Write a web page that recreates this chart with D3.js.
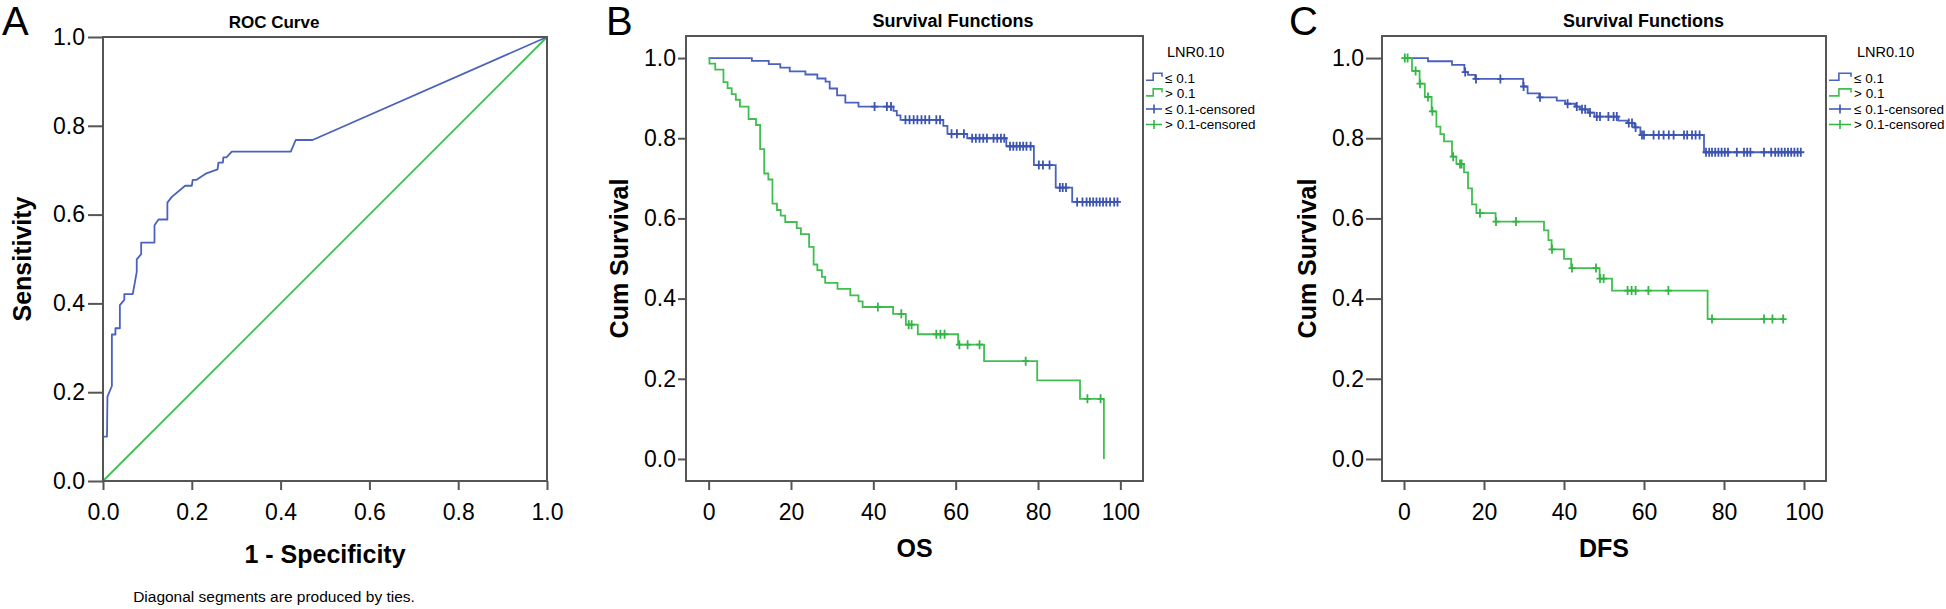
<!DOCTYPE html>
<html><head><meta charset="utf-8">
<script src="https://cdn.jsdelivr.net/npm/d3@7"></script>
<style>
body{margin:0;background:#fff;}
svg text{font-family:"Liberation Sans",Arial,Helvetica,sans-serif;fill:#000;}
</style></head><body>
<svg id="chart" width="1946" height="609"></svg>
<script>
// ---------------- DATA ----------------
// Panel A: ROC curve (1 - specificity, sensitivity)
const rocFPR = [0, 0, 0.009, 0.010, 0.020, 0.020, 0.028, 0.028, 0.038, 0.038, 0.048, 0.048, 0.067, 0.076, 0.076, 0.086, 0.086, 0.116, 0.116, 0.125, 0.145, 0.145, 0.155, 0.185, 0.200, 0.202, 0.210, 0.233, 0.258, 0.260, 0.270, 0.271, 0.278, 0.290, 0.423, 0.434, 0.472, 1];
const rocTPR = [0, 0.100, 0.100, 0.190, 0.214, 0.330, 0.330, 0.344, 0.344, 0.396, 0.408, 0.421, 0.421, 0.471, 0.499, 0.511, 0.537, 0.537, 0.576, 0.589, 0.589, 0.627, 0.640, 0.665, 0.665, 0.678, 0.678, 0.693, 0.702, 0.717, 0.717, 0.729, 0.729, 0.742, 0.742, 0.768, 0.768, 1];
const rocRefX = [0, 1];
const rocRefY = [0, 1];
const rocTicks = [0, 0.2, 0.4, 0.6, 0.8, 1.0];

// Panel B: OS, LNR <= 0.1
const osLowEventT = [10.5, 14.6, 17.4, 19.7, 23.5, 26.4, 28.4, 29.4, 31.2, 33.2, 36.4, 44.9, 45.7, 46.6, 57.0, 58.0, 62.8, 72.3, 79.0, 84.3, 88.3];
const osLowEventS = [0.993, 0.985, 0.976, 0.967, 0.959, 0.949, 0.941, 0.924, 0.907, 0.889, 0.879, 0.868, 0.857, 0.846, 0.831, 0.811, 0.800, 0.780, 0.733, 0.677, 0.641];
const osLowCensT = [40.3, 43.3, 44.3, 47.8, 48.8, 49.8, 50.7, 51.7, 52.6, 53.6, 55.3, 56.2, 59.0, 60.3, 62.0, 64.0, 64.9, 65.8, 66.7, 67.6, 69.2, 70.1, 71.0, 71.8, 73.2, 74.0, 74.8, 75.6, 76.4, 77.2, 78.2, 80.2, 81.2, 82.8, 85.3, 86.0, 86.8, 89.5, 90.8, 91.8, 92.6, 93.4, 94.2, 95.0, 95.8, 96.6, 97.5, 98.5, 99.3];
// Panel B: OS, LNR > 0.1
const osHighEventT = [0.2, 1.6, 3.6, 4.6, 5.6, 6.6, 7.6, 9.7, 11.5, 12.5, 13.5, 14.5, 15.5, 16.6, 17.5, 18.6, 21.4, 22.4, 24.4, 25.5, 26.4, 27.5, 28.3, 31.3, 34.4, 36.4, 37.4, 44.8, 47.9, 50.8, 60.6, 66.9, 79.8, 90.2, 96.0];
const osHighEventS = [0.986, 0.971, 0.940, 0.925, 0.910, 0.896, 0.879, 0.848, 0.833, 0.773, 0.712, 0.697, 0.637, 0.621, 0.607, 0.591, 0.576, 0.561, 0.529, 0.485, 0.471, 0.454, 0.439, 0.424, 0.408, 0.393, 0.379, 0.362, 0.335, 0.311, 0.285, 0.244, 0.196, 0.150, 0.0];
const osHighCensT = [41.1, 46.8, 48.6, 49.3, 55.3, 56.3, 57.3, 60.9, 62.9, 65.8, 77.0, 92.0, 95.2];

// Panel C: DFS, LNR <= 0.1
const dfsLowEventT = [6.0, 12.0, 15.1, 16.0, 17.8, 29.8, 30.9, 33.8, 38.2, 40.3, 42.8, 44.0, 46.0, 47.6, 53.6, 55.9, 57.6, 59.1, 75.0];
const dfsLowEventS = [0.992, 0.983, 0.965, 0.958, 0.948, 0.929, 0.912, 0.902, 0.894, 0.886, 0.879, 0.872, 0.864, 0.854, 0.844, 0.838, 0.827, 0.808, 0.765];
const dfsLowCensT = [15.3, 18.0, 24.1, 29.9, 34.0, 40.9, 43.2, 44.5, 45.3, 46.5, 48.2, 49.0, 51.1, 52.4, 53.2, 56.2, 57.0, 57.9, 59.5, 60.0, 62.4, 63.7, 64.9, 66.2, 67.4, 70.0, 70.8, 72.0, 72.9, 73.9, 75.5, 76.3, 77.0, 77.8, 78.6, 79.4, 80.2, 81.0, 83.2, 85.0, 85.8, 86.6, 90.0, 91.8, 92.8, 93.6, 94.4, 95.2, 96.0, 96.8, 97.6, 98.4, 99.2];
// Panel C: DFS, LNR > 0.1
const dfsHighEventT = [2.0, 3.9, 5.2, 6.9, 8.1, 9.1, 10.0, 12.0, 13.1, 15.0, 16.0, 17.0, 18.1, 22.9, 35.0, 36.1, 36.9, 40.0, 41.8, 48.9, 52.0, 75.9];
const dfsHighEventS = [0.968, 0.936, 0.903, 0.867, 0.829, 0.810, 0.792, 0.754, 0.736, 0.715, 0.675, 0.635, 0.613, 0.592, 0.570, 0.546, 0.523, 0.499, 0.476, 0.450, 0.420, 0.349];
const dfsHighCensT = [0.2, 0.9, 2.9, 4.0, 6.0, 7.1, 12.3, 14.0, 14.4, 19.0, 23.0, 28.0, 37.0, 42.0, 48.0, 49.0, 49.9, 55.9, 56.9, 57.9, 61.1, 66.1, 77.0, 90.0, 92.1, 94.8];

const survTicksY = [0, 0.2, 0.4, 0.6, 0.8, 1.0];
const survTicksX = [0, 20, 40, 60, 80, 100];
const legendTitle = "LNR0.10";
const legendLabels = ["\u2264 0.1", "> 0.1", "\u2264 0.1-censored", "> 0.1-censored"];

// ---------------- STYLE ----------------
const FRAME = "#555555";
const BLUE = "#4a62bd";
const GREEN = "#40bf50";
const BLUE_M = "#3c54b0";
const GREEN_M = "#33b545";

const svg = d3.select("#chart");
svg.append("rect").attr("width", 1946).attr("height", 609).attr("fill", "#fff");

function styleAxis(g) {
  g.select(".domain").remove();
  g.selectAll(".tick line").attr("stroke", FRAME).attr("stroke-width", 2);
  g.selectAll(".tick text").style("font-size", "23px").attr("fill", "#000");
}

function frame(x0, x1, y0, y1) {
  svg.append("rect").attr("x", x0).attr("y", y0).attr("width", x1 - x0).attr("height", y1 - y0)
    .attr("fill", "none").attr("stroke", FRAME).attr("stroke-width", 2);
}

// ---------------- PANEL A ----------------
const xA = d3.scaleLinear().domain([0, 1]).range([103, 547]);
const yA = d3.scaleLinear().domain([0, 1]).range([481, 37]);

svg.append("g").attr("transform", "translate(103,0)")
  .call(d3.axisLeft(yA).tickValues(rocTicks).tickFormat(d3.format(".1f")).tickSize(15).tickPadding(3))
  .call(styleAxis);
svg.append("g").attr("transform", "translate(0,481)")
  .call(d3.axisBottom(xA).tickValues(rocTicks).tickFormat(d3.format(".1f")).tickSize(9).tickPadding(14))
  .call(styleAxis);

svg.append("path")
  .attr("d", d3.line().x(d => xA(d[0])).y(d => yA(d[1]))(rocRefX.map((v, i) => [v, rocRefY[i]])))
  .attr("fill", "none").attr("stroke", GREEN).attr("stroke-width", 1.8);
svg.append("path")
  .attr("d", d3.line().x(d => xA(d[0])).y(d => yA(d[1]))(rocFPR.map((v, i) => [v, rocTPR[i]])))
  .attr("fill", "none").attr("stroke", BLUE).attr("stroke-width", 1.8).attr("stroke-linejoin", "round");
frame(103, 547, 37, 481);

svg.append("text").attr("x", 2).attr("y", 35).style("font-size", "40px").text("A");
svg.append("text").attr("x", 274).attr("y", 28).attr("text-anchor", "middle")
  .style("font-size", "17px").style("font-weight", "bold").text("ROC Curve");
svg.append("text").attr("transform", "translate(31,259) rotate(-90)").attr("text-anchor", "middle")
  .style("font-size", "25px").style("font-weight", "bold").text("Sensitivity");
svg.append("text").attr("x", 325).attr("y", 563).attr("text-anchor", "middle")
  .style("font-size", "25px").style("font-weight", "bold").text("1 - Specificity");
svg.append("text").attr("x", 274).attr("y", 602).attr("text-anchor", "middle")
  .style("font-size", "15.5px").text("Diagonal segments are produced by ties.");

// ---------------- KM helper ----------------
function survAt(t, evT, evS) {
  let s = 1;
  evT.forEach((e, i) => { if (e <= t) s = evS[i]; });
  return s;
}
function kmPanel(cfg) {
  const x = d3.scaleLinear().domain([-5.5, 105.5]).range([cfg.x0, cfg.x1]);
  const y = d3.scaleLinear().domain([-0.055, 1.055]).range([cfg.y1, cfg.y0]);

  svg.append("g").attr("transform", `translate(${cfg.x0},0)`)
    .call(d3.axisLeft(y).tickValues(survTicksY).tickFormat(d3.format(".1f")).tickSize(cfg.yTick).tickPadding(cfg.yPad))
    .call(styleAxis);
  svg.append("g").attr("transform", `translate(0,${cfg.y1})`)
    .call(d3.axisBottom(x).tickValues(survTicksX).tickFormat(d3.format("d")).tickSize(9).tickPadding(14))
    .call(styleAxis);

  const line = d3.line().x(d => x(d[0])).y(d => y(d[1])).curve(d3.curveStepAfter);
  cfg.series.forEach(sr => {
    const end = Math.max(d3.max(sr.evT), d3.max(sr.cenT));
    const pts = [[0, 1]];
    sr.evT.forEach((t, i) => pts.push([t, sr.evS[i]]));
    pts.push([end, sr.evS[sr.evS.length - 1]]);
    svg.append("path").attr("d", line(pts)).attr("fill", "none")
      .attr("stroke", sr.color).attr("stroke-width", 1.8);
  });
  cfg.series.forEach(sr => {
    svg.append("g").selectAll("path").data(sr.cenT).join("path")
      .attr("d", t => {
        const px = x(t), py = y(survAt(t, sr.evT, sr.evS));
        return `M${px - 3.5},${py}H${px + 3.5}M${px},${py - 4.5}V${py + 4.5}`;
      })
      .attr("fill", "none").attr("stroke", sr.mark).attr("stroke-width", 1.8);
  });
  frame(cfg.x0, cfg.x1, cfg.y0, cfg.y1);

  svg.append("text").attr("x", cfg.letterX).attr("y", 35).style("font-size", "40px").text(cfg.letter);
  svg.append("text").attr("x", cfg.titleX).attr("y", 27).attr("text-anchor", "middle")
    .style("font-size", "18px").style("font-weight", "bold").text("Survival Functions");
  svg.append("text").attr("transform", `translate(${cfg.yTitleX},${(cfg.y0 + cfg.y1) / 2}) rotate(-90)`)
    .attr("text-anchor", "middle").style("font-size", "25px").style("font-weight", "bold").text("Cum Survival");
  svg.append("text").attr("x", (cfg.x0 + cfg.x1) / 2).attr("y", 557).attr("text-anchor", "middle")
    .style("font-size", "25px").style("font-weight", "bold").text(cfg.xTitle);

  // legend
  const lg = svg.append("g");
  lg.append("text").attr("x", cfg.legTitleX).attr("y", 57).style("font-size", "14.5px").text(legendTitle);
  const rows = [77.8, 93.4, 109, 124.5];
  const cols = [BLUE, GREEN, BLUE_M, GREEN_M];
  const sx = cfg.legSymX, sw = cfg.legSymW;
  rows.forEach((cy, i) => {
    let d;
    if (i < 2) d = `M${sx},${cy + 2.5}H${sx + sw * 0.45}V${cy - 4.5}H${sx + sw}V${cy - 1}`;
    else d = `M${sx},${cy}H${sx + sw}M${sx + sw / 2},${cy - 4.5}V${cy + 4.5}`;
    lg.append("path").attr("d", d).attr("fill", "none").attr("stroke", cols[i]).attr("stroke-width", 1.6);
    lg.append("text").attr("x", sx + sw + 3).attr("y", cy + 4.8).style("font-size", "13.5px").text(legendLabels[i]);
  });
}

kmPanel({
  x0: 686, x1: 1143, y0: 36, y1: 481, yTick: 8, yPad: 2,
  letter: "B", letterX: 606, titleX: 953, yTitleX: 628, xTitle: "OS",
  legTitleX: 1167, legSymX: 1146, legSymW: 16,
  series: [
    { evT: osLowEventT, evS: osLowEventS, cenT: osLowCensT, color: BLUE, mark: BLUE_M },
    { evT: osHighEventT, evS: osHighEventS, cenT: osHighCensT, color: GREEN, mark: GREEN_M }
  ]
});
kmPanel({
  x0: 1382, x1: 1826, y0: 36, y1: 481, yTick: 16, yPad: 2,
  letter: "C", letterX: 1289, titleX: 1643.5, yTitleX: 1316, xTitle: "DFS",
  legTitleX: 1857, legSymX: 1829, legSymW: 22,
  series: [
    { evT: dfsLowEventT, evS: dfsLowEventS, cenT: dfsLowCensT, color: BLUE, mark: BLUE_M },
    { evT: dfsHighEventT, evS: dfsHighEventS, cenT: dfsHighCensT, color: GREEN, mark: GREEN_M }
  ]
});
</script>
</body></html>
